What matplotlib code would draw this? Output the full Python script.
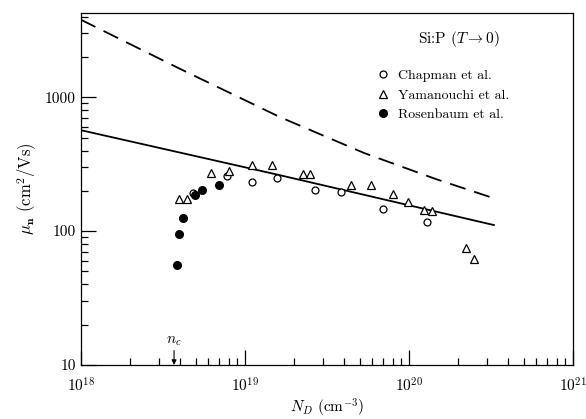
import matplotlib
matplotlib.use('Agg')
import matplotlib.pyplot as plt
from matplotlib.ticker import LogLocator, LogFormatterMathtext, FixedFormatter, NullFormatter

plt.rcParams['font.family'] = ['cmr10', 'DejaVu Serif']
plt.rcParams['mathtext.fontset'] = 'cm'
plt.rcParams['axes.formatter.use_mathtext'] = True

# data
chap_n  = [4.84e18, 7.73e18, 1.10e19, 1.57e19, 2.67e19, 3.87e19, 6.97e19, 1.29e20]
chap_mu = [193, 257, 231, 251, 202, 196, 146, 118]

yama_n  = [3.94e18, 4.41e18, 6.2e18, 7.99e18, 1.10e19, 1.47e19, 2.27e19, 2.51e19,
           4.43e19, 5.84e19, 7.99e19, 9.9e19, 1.23e20, 1.39e20, 2.23e20, 2.5e20]
yama_mu = [173, 175, 272, 282, 311, 313, 266, 266,
           223, 223, 191, 164, 145, 142, 75, 62]

rose_n  = [3.83e18, 3.98e18, 4.19e18, 4.98e18, 5.47e18, 6.97e18]
rose_mu = [56, 95, 125, 186, 202, 222]

solid_n  = [1e18, 1.63e19, 3.3e20]
solid_mu = [568, 262, 111]

dash_n  = [1e18, 4.0e18, 1.63e19, 5.32e19, 1.46e20, 3.3e20]
dash_mu = [3800, 1637, 713, 384, 245, 176]

n_c = 3.7e18

fig = plt.figure(figsize=(5.86, 4.19), dpi=100)
ax = fig.add_axes([0.138, 0.129, 0.8396, 0.840])

ax.plot(solid_n, solid_mu, color='black', lw=1.3)
ax.plot(dash_n, dash_mu, color='black', lw=1.3, linestyle=(0, (9, 5)))

ax.plot(chap_n, chap_mu, 'o', mfc='white', mec='black', mew=0.9, ms=5,
        label='Chapman et al.')
ax.plot(yama_n, yama_mu, '^', mfc='white', mec='black', mew=0.9, ms=6,
        label='Yamanouchi et al.')
ax.plot(rose_n, rose_mu, 'o', mfc='black', mec='black', ms=5.5,
        label='Rosenbaum et al.')

ax.set_xscale('log')
ax.set_yscale('log')
ax.set_xlim(1e18, 1e21)
ax.set_ylim(10, 10**3.63)

ax.xaxis.set_major_formatter(LogFormatterMathtext())
ax.xaxis.set_minor_locator(LogLocator(base=10, subs=range(2, 10)))
ax.xaxis.set_minor_formatter(NullFormatter())
ax.set_yticks([10, 100, 1000])
ax.yaxis.set_major_formatter(FixedFormatter(['10', '100', '1000']))
ax.yaxis.set_minor_locator(LogLocator(base=10, subs=range(2, 10)))
ax.yaxis.set_minor_formatter(NullFormatter())

ax.tick_params(which='both', direction='in', top=False, right=False, labelsize=11)
ax.tick_params(which='major', length=11, width=0.9)
ax.tick_params(which='minor', length=5, width=0.9)
ax.tick_params(axis='x', pad=8)
for s in ax.spines.values():
    s.set_linewidth(0.9)

ax.set_xlabel(r'$N_D$ (cm$^{-3}$)', fontsize=11, labelpad=2)
ax.set_ylabel(r'$\mathbf{\mu_n}$ (cm$^2$/Vs)', fontsize=12, labelpad=4)

# n_c marker on the axis
ax.annotate('', xy=(n_c, 10), xytext=(n_c, 12.8),
            arrowprops=dict(arrowstyle='-|>', color='black', lw=0.8,
                            mutation_scale=7, shrinkA=0, shrinkB=0))
ax.text(n_c, 13.3, r'$n_c$', ha='center', va='bottom', fontsize=11)

ax.text(0.685, 0.925, r'Si:P $(T \rightarrow 0)$', transform=ax.transAxes,
        fontsize=11, ha='left', va='center')
ax.legend(loc='upper left', bbox_to_anchor=(0.600, 0.84), frameon=False,
          fontsize=10, handlelength=1.0, handletextpad=0.6, labelspacing=0.5,
          borderaxespad=0, borderpad=0)

fig.savefig('out.png', dpi=100, facecolor='white')
